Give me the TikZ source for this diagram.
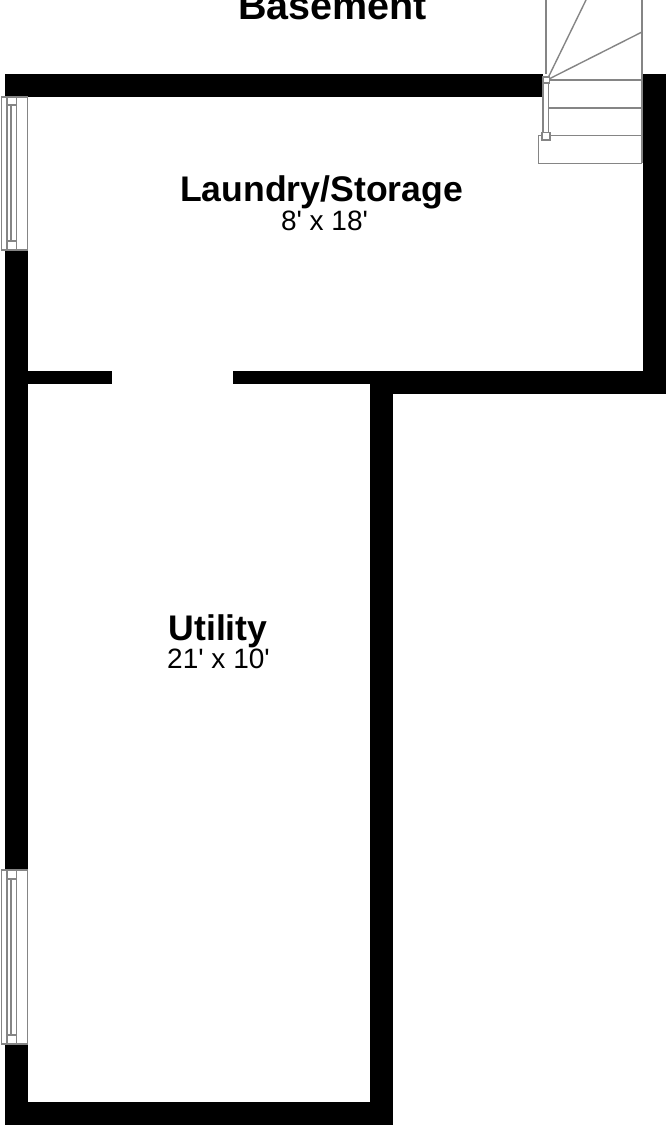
\documentclass[tikz,border=0pt]{standalone}
\usepackage{fontspec}
\newfontfamily\labelfont{Liberation Sans}
\definecolor{linegray}{gray}{0.52}
\tikzset{
  wall/.style={fill=black,draw=none},
  fine/.style={draw=linegray,line width=1.4pt},
  finefill/.style={draw=linegray,line width=1.4pt,fill=white},
  roomname/.style={anchor=base,inner sep=0pt,font=\labelfont\fontsize{35.6}{36}\selectfont\bfseries},
  roomsize/.style={anchor=base,inner sep=0pt,font=\labelfont\fontsize{28}{28}\selectfont}
}
\begin{document}
\begin{tikzpicture}[x=1pt,y=-1pt]
\useasboundingbox[fill=white] (0,0) rectangle (666,1126);
% walls
\fill[wall] (5,74) rectangle (543,97);
\fill[wall] (642.5,74) rectangle (666,394);
\fill[wall] (370,371) rectangle (666,394);
\fill[wall] (233,371) rectangle (393,383.5);
\fill[wall] (27,371) rectangle (112,383.5);
\fill[wall] (370,371) rectangle (393,1125);
\fill[wall] (5,1102) rectangle (393,1125);
\fill[wall] (5,250) rectangle (27.5,870);
\fill[wall] (5,1044) rectangle (27.5,1125);
% stairs
\draw[fine] (546,74) -- (546,0);
\draw[fine] (642,163) -- (642,0);
\draw[fine] (547,80) -- (586,0);
\draw[fine] (547,80) -- (642,32);
\draw[fine] (547,80) -- (642,80);
\draw[fine] (547,108) -- (642,108);
\draw[fine] (546,135.5) -- (642,135.5);
\draw[fine] (546,135.5) -- (538.5,135.5) -- (538.5,163.3) -- (642,163.3);
% newels and rail
\draw[finefill] (543,83) rectangle (548.5,134);
\draw[finefill] (543,77) rectangle (549.5,83);
\draw[finefill] (542,132.5) rectangle (550,140);
% window 1
\draw[finefill] (1.7,97) rectangle (27.5,250);
\draw[fine] (7,97) -- (7,250);
\draw[fine] (16.5,97) -- (16.5,250);
\draw[fine] (11,105) -- (11,241);
\draw[fine] (7,105) -- (16.5,105);
\draw[fine] (7,241) -- (16.5,241);
% window 2
\draw[finefill] (1.7,870) rectangle (27.5,1044);
\draw[fine] (7,870) -- (7,1044);
\draw[fine] (16.5,870) -- (16.5,1044);
\draw[fine] (11,879) -- (11,1035);
\draw[fine] (7,879) -- (16.5,879);
\draw[fine] (7,1035) -- (16.5,1035);
% labels
\node[roomname,font=\labelfont\fontsize{39.5}{40}\selectfont\bfseries] (basement) at (332.5,20) {Basement};
\node[roomname] (laundry) at (321.5,201) {Laundry/Storage};
\node[roomsize] (laundrysize) at (324.5,230.7) {8' x 18'};
\node[roomname] (utility) at (218,640) {Utility};
\node[roomsize] (utilitysize) at (218.5,668) {21' x 10'};
\end{tikzpicture}
\end{document}
